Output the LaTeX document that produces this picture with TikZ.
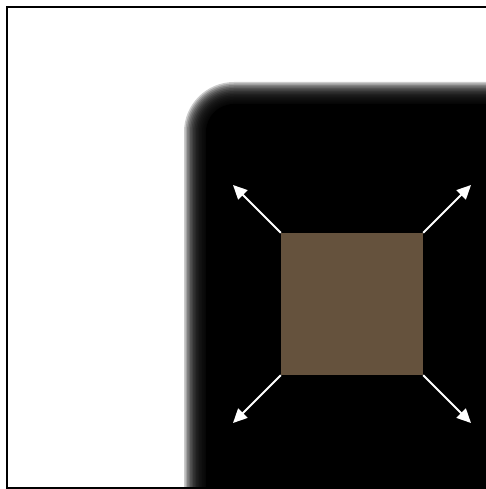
\documentclass[tikz,border=0pt]{standalone}
\usetikzlibrary{arrows.meta}
\definecolor{brownsq}{RGB}{101,82,61}
\tikzset{
  frameline/.style={line width=2pt, black},
  outarrow/.style={white, line width=2pt, -{Triangle[length=14pt,width=13pt]}},
}
\begin{document}
\begin{tikzpicture}[x=1pt,y=-1pt]
\useasboundingbox (0,0) rectangle (486,489);
\fill[white] (0,0) rectangle (486,489);
% blurred black rounded region
\foreach \d in {0,1.5,...,21}{
  \pgfmathsetmacro{\r}{50-\d}
  \fill[black, fill opacity=0.2, rounded corners=\r pt] (184+\d,82+\d) rectangle (560,560);
}
\fill[black, rounded corners=28pt] (206,104) rectangle (560,560);
% frame
\draw[frameline] (486,7) -- (7,7) -- (7,488) -- (486,488);
% brown square
\node[fill=brownsq, minimum size=142pt, inner sep=0pt, draw=none] (sq) at (352,304) {};
\coordinate (a1) at (233,185);
\coordinate (a2) at (471,185);
\coordinate (a3) at (233,423);
\coordinate (a4) at (471,423);
\draw[outarrow] (sq.north west) -- (a1);
\draw[outarrow] (sq.north east) -- (a2);
\draw[outarrow] (sq.south west) -- (a3);
\draw[outarrow] (sq.south east) -- (a4);
\end{tikzpicture}
\end{document}
